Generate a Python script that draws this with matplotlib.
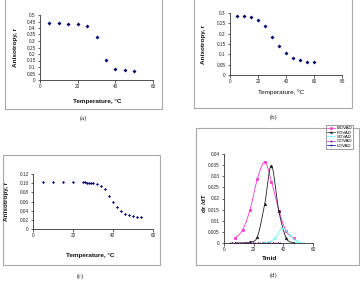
import numpy as np
import matplotlib
matplotlib.use('Agg')
import matplotlib.pyplot as plt
from matplotlib.patches import Rectangle

plt.rcParams['font.family'] = ['Liberation Sans', 'DejaVu Sans']

# (a)
temp_a = [5, 10, 15, 20, 25, 30, 35, 40, 45, 50]
aniso_a = [0.436, 0.436, 0.434, 0.434, 0.418, 0.328, 0.157, 0.087, 0.075, 0.072]

# (b)
temp_b = [5, 10, 15, 20, 25, 30, 35, 40, 45, 50, 55, 60]
aniso_b = [0.285, 0.285, 0.28, 0.265, 0.237, 0.183, 0.14, 0.105, 0.083, 0.072, 0.063, 0.062]

# (c)
temp_c = [5, 10, 15, 20, 25, 26, 27, 28, 29, 30, 32, 34, 36, 38, 40, 42, 44, 46, 48, 50, 52, 54]
aniso_c = [0.1025, 0.1025, 0.1025, 0.1025, 0.1015, 0.1015, 0.1012, 0.101, 0.1005, 0.1,
           0.0975, 0.094, 0.0865, 0.073, 0.06, 0.048, 0.0385, 0.0335, 0.0305, 0.028, 0.027, 0.027]

# (d)
tmid = [7.5, 12.5, 17.5, 22.5, 27.5, 32, 37, 42, 47]
movad = [0.0022, 0.0058, 0.0148, 0.0288, 0.0364, 0.0276, 0.0146, 0.0052, 0.0022]
povad = [0, 0, 0.0005, 0.0028, 0.0177, 0.0348, 0.0142, 0.0022, 0]
tmid_so = [26, 30, 34.5, 39.3, 44.5, 49, 53]
sovad = [0, 0.0003, 0.0022, 0.0066, 0.0035, 0.0008, 0]
tmid_oo = [5.7, 9.1, 12.5, 15.9, 19.3, 22.7, 26.1, 29.5, 32.9, 36.3]
oovad = [0, 0, 0, 0, 0, 0, 0, 0, 0, 0]
tmid_lo = [4, 7.4, 10.8, 14.2, 17.6, 21, 24.4, 27.8, 31.2, 34.6, 38]
lovad = [0, 0, 0, 0, 0, 0, 0, 0, 0, 0, 0]

W, H = 360.0, 281.0
fig = plt.figure(figsize=(3.6, 2.81), dpi=100)


def ax_at(l, r, t, b):
    return fig.add_axes([l / W, 1 - b / H, (r - l) / W, (b - t) / H])


def frame(x0, x1, y0, y1):
    fig.add_artist(Rectangle((x0 / W, 1 - y1 / H), (x1 - x0) / W, (y1 - y0) / H,
                             transform=fig.transFigure, fill=False, ec='#a8a8a8', lw=0.8))


def style(ax, xmax, ymax, ystep, fmt):
    ax.set_xlim(0, xmax)
    ax.set_ylim(0, ymax)
    ax.set_xticks(np.arange(0, xmax + 1, 20))
    yt = np.arange(0, ymax + ystep / 2, ystep)
    ax.set_yticks(yt)
    ax.set_yticklabels(['0'] + [fmt(v) for v in yt[1:]])
    for s in ['top', 'right']:
        ax.spines[s].set_visible(False)
    for s in ['left', 'bottom']:
        ax.spines[s].set_linewidth(0.6)
        ax.spines[s].set_color('#333333')
    ax.tick_params(labelsize=3.4, length=1.8, width=0.5, pad=1.2, colors='#222222')
    ax.patch.set_alpha(0)


def fmt_g(v):
    return ('%.3f' % v).rstrip('0').rstrip('.')


def smooth(x, y, n=24):
    x = np.asarray(x, float)
    y = np.asarray(y, float)
    px = np.concatenate([[2 * x[0] - x[1]], x, [2 * x[-1] - x[-2]]])
    py = np.concatenate([[2 * y[0] - y[1]], y, [2 * y[-1] - y[-2]]])
    xs, ys = [], []
    t = np.linspace(0, 1, n, endpoint=False)
    for i in range(1, len(px) - 2):
        for arr, out in ((px, xs), (py, ys)):
            p0, p1, p2, p3 = arr[i - 1], arr[i], arr[i + 1], arr[i + 2]
            out.extend(0.5 * (2 * p1 + (-p0 + p2) * t + (2 * p0 - 5 * p1 + 4 * p2 - p3) * t ** 2
                              + (-p0 + 3 * p1 - 3 * p2 + p3) * t ** 3))
    xs.append(x[-1])
    ys.append(y[-1])
    return xs, ys


lab_kw = dict(fontsize=4.6, fontweight='bold', color='#111111')
cap_kw = dict(fontsize=4.8, family='Liberation Serif', color='#222222', ha='center', va='center')

# ---- (a)
frame(5, 162, -2, 109)
ax = ax_at(40, 153, 15, 80)
ax.plot(temp_a, aniso_a, 'D', color='#000066', ms=2.0, mew=0)
style(ax, 60, 0.5, 0.05, fmt_g)
fig.text(97 / W, 1 - 102 / H, 'Temperature, °C', ha='center', va='center', **lab_kw)
fig.text(15 / W, 1 - 47 / H, 'Anisotropy, r', rotation=90, ha='center', va='center', **lab_kw)
fig.text(83 / W, 1 - 118 / H, '(a)', **cap_kw)

# ---- (b)
frame(194, 352, -2, 108)
ax = ax_at(230, 342, 13, 75)
ax.plot(temp_b, aniso_b, 'D', color='#000066', ms=2.0, mew=0)
style(ax, 80, 0.3, 0.05, fmt_g)
fig.text(281 / W, 1 - 92 / H, 'Temperature, ºC', ha='center', va='center',
         fontsize=4.6, color='#111111')
fig.text(204 / W, 1 - 44 / H, 'Anisotropy, r', rotation=90, ha='center', va='center', **lab_kw)
fig.text(274 / W, 1 - 117 / H, '(b)', **cap_kw)

# ---- (c)
frame(3, 160, 155, 265)
ax = ax_at(33, 153, 174, 229)
ax.plot(temp_c, aniso_c, 'D', color='#000066', ms=1.5, mew=0)
style(ax, 60, 0.12, 0.02, lambda v: '%.2f' % v)
fig.text(90 / W, 1 - 255 / H, 'Temperature, °C', ha='center', va='center', **lab_kw)
fig.text(7 / W, 1 - 201 / H, 'Anisotropy, r', rotation=90, ha='center', va='center', **lab_kw)
fig.text(80 / W, 1 - 276 / H, '(c)', **cap_kw)

# ---- (d)
frame(196, 359, 128, 265)
ax = ax_at(224, 313, 154, 243)
series = [
    (tmid, movad, 'MOVAD', '#ff33cc', 's'),
    (tmid, povad, 'POVAD', '#222222', '^'),
    (tmid_so, sovad, 'SOVAD', '#66ffee', 'x'),
    (tmid_oo, oovad, 'OOVAD', '#9933aa', '*'),
    (tmid_lo, lovad, 'LOVAD', '#000080', '+'),
]
for xs, ys, name, col, mk in series:
    sx, sy = smooth(xs, ys)
    ax.plot(sx, sy, '-', color=col, lw=0.6)
    ax.plot(xs, ys, mk, color=col, ms=1.8, mew=0.5)
    ax.plot([], [], '-', marker=mk, color=col, lw=0.5, ms=1.4, mew=0.4, label=name)
style(ax, 60, 0.04, 0.005, fmt_g)
leg = fig.legend(loc='upper left', bbox_to_anchor=(326 / W, 1 - 125 / H), fontsize=3.2,
                 frameon=True, fancybox=False, borderpad=0.25, labelspacing=0.05,
                 handlelength=1.8, handletextpad=0.3, borderaxespad=0)
leg.get_frame().set_edgecolor('#555555')
leg.get_frame().set_linewidth(0.5)
fig.text(270 / W, 1 - 259 / H, 'Tmid', ha='center', va='center', **lab_kw)
fig.text(205 / W, 1 - 203 / H, 'dr /dT', rotation=90, ha='center', va='center', **lab_kw)
fig.text(274 / W, 1 - 275 / H, '(d)', **cap_kw)

fig.savefig('out.png', dpi=100)
